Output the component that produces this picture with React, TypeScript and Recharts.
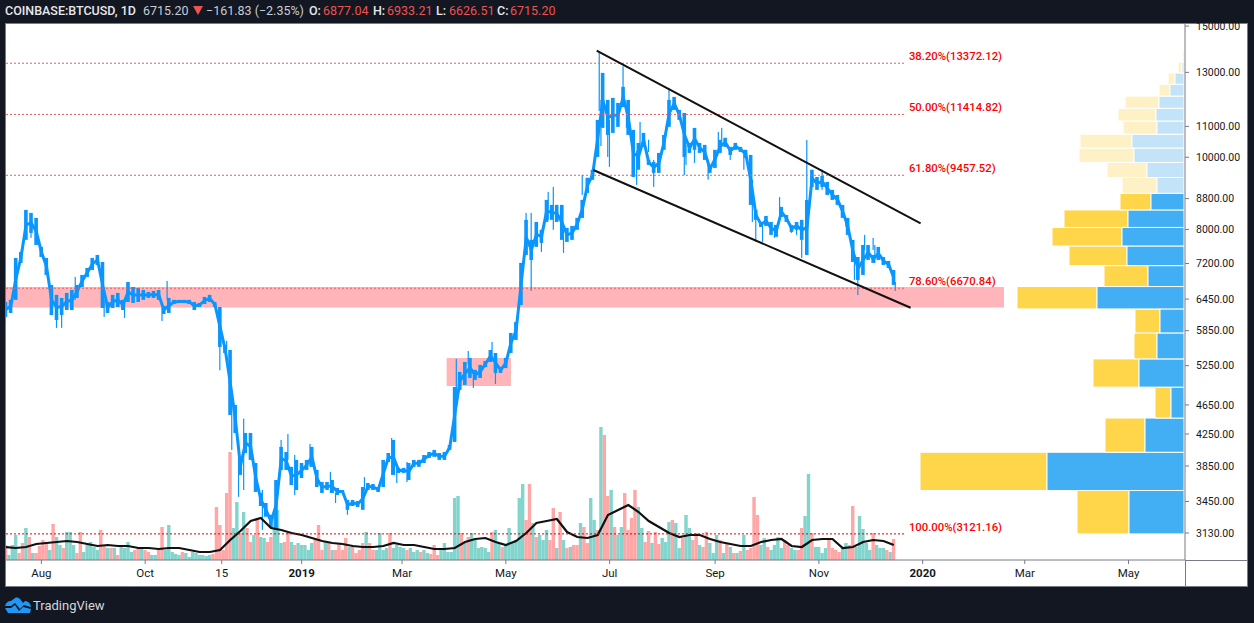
import { Bar, ComposedChart, Line, ReferenceArea, ReferenceDot, ReferenceLine, XAxis, YAxis } from "recharts";

// days are counted from 2019-01-01
const FIRST_DAY = -174;
const X_DOMAIN = [-173.8, 519.2];
const Y_DOMAIN = [2879, 15097];
const VOLUME_MAX = 536;

// every 3rd day: high and low of the price body
const priceHighs = [
  6393, 6435, 7325, 7462, 8498, 8419, 8290, 7580, 7325, 6738, 6534, 6473, 6574, 6635, 6738, 6950, 7102, 7325, 7393, 7235,
  6393, 6534, 6574, 6435, 6800, 6696, 6675, 6635, 6594, 6615, 6635, 6315, 6473, 6435, 6435, 6435, 6435, 6393, 6373, 6493,
  6534, 6393, 6295, 5597, 5511, 4650, 3960, 4264, 4264, 3886, 3542, 3434, 3311, 3687, 4084, 4020, 3840, 3923, 3886, 3923,
  4084, 3803, 3664, 3664, 3687, 3597, 3575, 3466, 3466, 3455, 3608, 3653, 3642, 3608, 3923, 4008, 4172, 3828, 3828, 3886,
  3923, 3923, 3983, 4020, 4046, 4008, 4020, 4108, 4916, 5150, 5310, 5378, 5182, 5262, 5327, 5511, 5460, 5227, 5378, 5809,
  6010, 7213, 8240, 7745, 8187, 7990, 8764, 8630, 8630, 8630, 8037, 8087, 8290, 8764, 9385, 9620, 11224, 12980, 11940, 12015,
  11829, 12430, 11940, 10882, 10453, 10781, 9917, 9856, 10135, 10715, 11940, 12050, 11576, 11469, 10453, 10950, 10453, 10390, 9765, 10232,
  10555, 10620, 10324, 10453, 10324, 10232, 10072, 8498, 8187, 8340, 8187, 8112, 8578, 8366, 8112, 8187, 8240, 8764, 9620, 9408,
  9437, 9265, 9040, 8900, 8630, 8290, 7745, 7347, 7625, 7625, 7393, 7580, 7347, 7258, 7058,
];
const priceLows = [
  6105, 6179, 6435, 7213, 7745, 7914, 7625, 7347, 6950, 6140, 6047, 6140, 6236, 6236, 6473, 6696, 6907, 7058, 7168, 6275,
  6179, 6275, 6295, 6236, 6393, 6373, 6393, 6435, 6473, 6473, 6435, 6160, 6179, 6353, 6373, 6373, 6353, 6236, 6295, 6353,
  6393, 6295, 5563, 5460, 4508, 4264, 3745, 4008, 3923, 3553, 3402, 3291, 3178, 3160, 3803, 3803, 3630, 3575, 3710, 3803,
  3840, 3608, 3542, 3575, 3542, 3520, 3542, 3362, 3402, 3392, 3362, 3575, 3575, 3553, 3608, 3898, 3745, 3768, 3768, 3687,
  3840, 3840, 3886, 3947, 3960, 3923, 3923, 4046, 4147, 4870, 4947, 5055, 5023, 5055, 5227, 5310, 5133, 5133, 5211, 5460,
  5685, 6334, 7393, 7280, 7580, 7673, 8187, 8240, 8187, 7745, 7697, 7745, 7990, 8290, 8956, 9325, 10010, 10950, 10715, 10781,
  10985, 11680, 10715, 9408, 9620, 10324, 9765, 9527, 9527, 10232, 10985, 11576, 11224, 10010, 10135, 10232, 10135, 9917, 9527, 9675,
  10135, 10324, 10072, 10232, 10166, 9980, 8630, 8240, 8062, 8087, 7866, 7819, 8316, 8187, 7938, 7990, 7745, 7393, 9123, 9040,
  9123, 8900, 8764, 8630, 8290, 7866, 7235, 6843, 6950, 7280, 7213, 7280, 7168, 7102, 6738,
];

// single long wicks: day, high, low
const wickDays = [
  -174, -159, -144, -141, -133, -116, -104, -82, -79, -48, -44, -41, -37, -34, -23, -12, -8, -4, 5, 17, 20, 27, 37, 53, 56, 62,
  91, 98, 101, 112, 114, 132, 135, 141, 145, 148, 154, 165, 175, 176, 180, 181, 189, 191, 197, 199, 204, 207, 216, 225, 226,
  231, 239, 245, 247, 252, 260, 265, 267, 271, 278, 281, 288, 291, 294, 297, 306, 320, 325, 327, 331, 336, 337, 349,
];
const wickHighs = [
  6393, 8366, 6534, 6435, 6907, 6435, 6393, 6275, 6822, 5563, 5667, 4766, 4172, 4457, 3575, 4172, 4250, 3983, 4121, 3780, 3542, 3402, 3720, 4198, 3828, 3898,
  5362, 5494, 5133, 5650, 5460, 8419, 8419, 7990, 8984, 9123, 7990, 9468, 13850, 11940, 11224, 11224, 13250, 11720, 10200, 11155, 10555, 9917, 12390, 10232, 10390,
  10850, 9917, 10815, 10950, 10232, 10232, 9330, 8240, 8112, 8112, 8840, 8112, 8112, 7745, 10550, 9620, 8290, 7280, 7058, 7866, 7794, 7625, 6800,
];
const wickLows = [
  6028, 7794, 5900, 5900, 6435, 6105, 6085, 6028, 6435, 5176, 5511, 4046, 3500, 3575, 3160, 3803, 3923, 3520, 3840, 3542, 3434, 3311, 3575, 3745, 3653, 3664,
  4795, 5262, 4900, 5345, 4960, 7745, 6615, 7462, 8240, 7990, 7439, 8900, 11530, 10350, 10010, 9705, 11760, 10950, 9180, 10232, 10166, 9123, 11760, 9466, 9765,
  9826, 9330, 10232, 10390, 9917, 9620, 8187, 7697, 7697, 7794, 8366, 7914, 7866, 7325, 8764, 9040, 8062, 6843, 6530, 7509, 7509, 7213, 6615,
];

// every 2nd day, positive closed up, negative closed down
const volumes = [
  -15, 5, 15, 25, -7, -17, 32, -23, 7, -7, -14, -20, -18, 10, -36, 23, 15, -12, 28, 28,
  15, -7, -28, 8, 15, 18, 13, 10, -30, -15, 12, -12, 12, -5, 14, 12, 18, 8, -10, -13,
  12, -10, -8, 5, 5, -10, -33, 10, 35, 8, 6, 5, -8, 7, 3, 8, 7, 5, 5, 4,
  5, -6, -53, -35, -10, -67, -108, 32, 58, -27, 48, -32, -18, 25, -40, 23, 22, -18, -23, 47,
  50, 17, -18, -27, 18, -15, 17, 15, 15, 10, 17, -20, -35, -10, 18, -17, 10, -10, -17, -10,
  -22, 13, -13, -7, -10, -17, 28, -17, -10, 10, 27, 10, 12, -27, 12, 15, 13, 12, -10, 12,
  8, 10, -8, 10, 7, -6, -15, -5, 12, 17, 8, 8, 62, 64, -27, 18, -23, 27, 20, 12,
  13, 12, 8, -28, 30, 17, -13, 15, 32, 17, 20, 62, 76, -40, -76, 37, -23, 25, 20, 30,
  -20, -52, 12, -48, 20, -12, 13, -15, -15, 37, -33, -17, 62, 40, -30, 133, -125, -64, 70, -33,
  25, 33, -67, -30, -42, -70, 53, 32, -18, -29, 17, -28, -16, 22, 18, 38, -40, 37, 12, -22,
  45, 32, -20, -27, 15, -13, -28, 17, 7, 25, -20, 7, -17, 13, -7, 7, -9, 25, -10, -12,
  -63, -45, 15, 22, -13, 10, 15, 23, 12, -20, -15, 12, 10, -10, -32, 44, 86, -27, 13, 13,
  7, 12, -20, -12, -10, -8, 12, 17, -15, -54, 13, 44, 31, 17, 10, -27, 15, 12, 12, -10,
  8, -21,
];

// every 6th day: volume moving average
const volumeMa = [
  13, 12, 13, 16, 17, 18, 19, 18, 16, 14, 15, 14, 14, 12, 12, 11, 12, 12, 10, 8, 8, 10, 20, 29, 39, 42, 32, 30, 27, 25,
  22, 19, 17, 16, 14, 13, 13, 14, 17, 15, 15, 13, 11, 11, 12, 18, 21, 22, 18, 15, 19, 27, 37, 39, 41, 28, 23, 22, 25, 45,
  50, 55, 48, 39, 33, 27, 23, 25, 25, 21, 18, 16, 14, 14, 18, 20, 21, 14, 13, 20, 21, 21, 12, 13, 18, 20, 19, 15,
];

// visible range volume profile, bottom row first
const profileEdges = [
  3121, 3569, 4017, 4465, 4913, 5361, 5809, 6257, 6705, 7153, 7601, 8049, 8497, 8945, 9393, 9841, 10289, 10737, 11185, 11633, 12081, 12529, 12977, 13425, 13873,
];
const profileTotals = [107, 264, 79, 29, 91, 50, 49, 167, 80, 115, 132, 120, 64, 62, 77, 105, 104, 61, 66, 59, 25, 16, 6, 2];
const profileUps = [55, 137, 39, 13, 45, 27, 24, 87, 36, 57, 62, 56, 33, 27, 37, 50, 52, 27, 28, 25, 14, 9, 2, 1];
const PROFILE_VALUE_AREA_TOP = 8945;

const fibLevels = [13372.12, 11414.82, 9457.52, 6670.84, 3121.16];
const fibLabels = ["38.20%(13372.12)", "50.00%(11414.82)", "61.80%(9457.52)", "78.60%(6670.84)", "100.00%(3121.16)"];
const FIB_END_DAY = 354.6;

const priceTicks = [3130, 3450, 3850, 4250, 4650, 5250, 5850, 6450, 7200, 8000, 8800, 10000, 11000, 13000, 15000];
const timeTicks = [-153, -92, -47, 0, 59, 120, 181, 243, 304, 365, 425, 486];
const timeLabels = ["Aug", "Oct", "15", "2019", "Mar", "May", "Jul", "Sep", "Nov", "2020", "Mar", "May"];

const tableByDay = new Map<number, any>();
const rowFor = (day: number) => {
  if (!tableByDay.has(day)) tableByDay.set(day, { day });
  return tableByDay.get(day);
};
priceHighs.forEach((hi, i) => {
  const r = rowFor(FIRST_DAY + 3 * i);
  r.body = [priceLows[i], hi];
  r.mid = Math.sqrt(priceLows[i] * hi);
});
wickDays.forEach((d, i) => { rowFor(d).wick = [wickLows[i], wickHighs[i]]; });
volumes.forEach((v, i) => {
  const r = rowFor(FIRST_DAY + 2 * i);
  r.volUp = v > 0 ? v : 0;
  r.volDown = v < 0 ? -v : 0;
});
volumeMa.forEach((v, i) => { rowFor(FIRST_DAY + 6 * i).ma = v; });
const chartData = [...tableByDay.values()].sort((a, b) => a.day - b.day);

const FONT = "Roboto, sans-serif";
const BLUE = "#0a96ff";
const ZONE = "rgba(255,50,62,0.36)";

// the table mixes 1, 2 and 3 day rows, so the axis band is too narrow for a plain barSize
const barShape = (w: number, fill: string) => (p: any) => {
  if (!Number.isFinite(p.height) || !Number.isFinite(p.y) || p.height === 0) return <g />;
  return <rect x={p.x + p.width / 2 - w / 2} y={Math.min(p.y, p.y + p.height)} width={w} height={Math.abs(p.height)} fill={fill} />;
};

function TimeTick({ x, y, payload }: any) {
  const label = timeLabels[timeTicks.indexOf(payload.value)];
  const isYear = label === "2019" || label === "2020";
  return (
    <text x={x} y={y + 11} textAnchor="middle" fontFamily={FONT} fontSize={11.5} fontWeight={isYear ? 700 : 400} fill="#131722">
      {label}
    </text>
  );
}

function HeaderText({ left, color, weight, children }: any) {
  return (
    <span style={{ position: "absolute", left, top: 2, fontFamily: FONT, fontSize: 12.5, lineHeight: "18px", color, fontWeight: weight ?? 400, whiteSpace: "nowrap" }}>
      {children}
    </span>
  );
}

export default function App() {
  return (
    <div style={{ position: "absolute", left: 0, top: 0, width: 1254, height: 623, background: "#131722", overflow: "hidden" }}>
      <HeaderText left={5} color="#e8e8ea" weight={500}>COINBASE:BTCUSD, 1D</HeaderText>
      <HeaderText left={143} color="#c9ccd4">6715.20</HeaderText>
      <div style={{ position: "absolute", left: 193, top: 6, width: 0, height: 0, borderLeft: "5px solid transparent", borderRight: "5px solid transparent", borderTop: "9px solid #ef5350" }} />
      <HeaderText left={206} color="#c9ccd4">−161.83 (−2.35%)</HeaderText>
      <HeaderText left={309} color="#e8e8ea" weight={500}>O:</HeaderText>
      <HeaderText left={323} color="#ef5350">6877.04</HeaderText>
      <HeaderText left={373} color="#e8e8ea" weight={500}>H:</HeaderText>
      <HeaderText left={387} color="#ef5350">6933.21</HeaderText>
      <HeaderText left={436} color="#e8e8ea" weight={500}>L:</HeaderText>
      <HeaderText left={449} color="#ef5350">6626.51</HeaderText>
      <HeaderText left={497} color="#e8e8ea" weight={500}>C:</HeaderText>
      <HeaderText left={510} color="#ef5350">6715.20</HeaderText>

      <div style={{ position: "absolute", left: 5, top: 23, width: 1243, height: 564, background: "#fff", boxSizing: "border-box", border: "1px solid #787b86" }} />
      <div style={{ position: "absolute", left: 1185, top: 560, width: 1, height: 27, background: "#787b86" }} />
      <div style={{ position: "absolute", left: 1185, top: 560, width: 63, height: 1, background: "#787b86" }} />

      <div style={{ position: "absolute", left: 0, top: 0 }}>
        <ComposedChart width={1254} height={623} data={chartData} margin={{ top: 24, right: 0, bottom: 0, left: 6 }}>
          <XAxis
            xAxisId="time"
            dataKey="day"
            type="number"
            domain={X_DOMAIN}
            allowDataOverflow
            ticks={timeTicks}
            interval={0}
            height={63}
            stroke="#787b86"
            tickSize={4}
            tick={<TimeTick />}
          />
          <XAxis xAxisId="wick" orientation="top" height={0} dataKey="day" type="number" domain={X_DOMAIN} allowDataOverflow hide />
          <XAxis xAxisId="vol" orientation="top" height={0} dataKey="day" type="number" domain={X_DOMAIN} allowDataOverflow hide />
          <XAxis xAxisId="profile" orientation="top" height={0} dataKey="day" type="number" domain={[-1, 1178]} allowDataOverflow reversed hide />
          <YAxis
            yAxisId="price"
            orientation="right"
            scale="log"
            type="number"
            domain={Y_DOMAIN}
            allowDataOverflow
            ticks={priceTicks}
            interval={0}
            width={69}
            stroke="#787b86"
            tickSize={4}
            tickMargin={7}
            tick={{ fontFamily: FONT, fontSize: 10.5, fill: "#131722" }}
            tickFormatter={(v: number) => v.toFixed(2)}
          />
          <YAxis yAxisId="volume" type="number" domain={[0, VOLUME_MAX]} allowDataOverflow hide />

          <Bar xAxisId="vol" yAxisId="volume" dataKey="volUp" stackId="v" shape={barShape(3.4, "#82d5cd")} fill="#82d5cd" isAnimationActive={false} />
          <Bar xAxisId="vol" yAxisId="volume" dataKey="volDown" stackId="v" shape={barShape(3.4, "#ffa6a6")} fill="#ffa6a6" isAnimationActive={false} />
          <Line xAxisId="time" yAxisId="volume" dataKey="ma" stroke="#111" strokeWidth={2.2} dot={false} connectNulls isAnimationActive={false} />
          <Bar xAxisId="wick" yAxisId="price" dataKey="wick" shape={barShape(1.2, BLUE)} fill={BLUE} isAnimationActive={false} />
          <Bar xAxisId="time" yAxisId="price" dataKey="body" shape={barShape(3.6, BLUE)} fill={BLUE} isAnimationActive={false} />
          <Line xAxisId="time" yAxisId="price" dataKey="mid" stroke={BLUE} strokeWidth={3} dot={false} connectNulls isAnimationActive={false} />

          {profileTotals.map((total, i) => {
            const faded = profileEdges[i] >= PROFILE_VALUE_AREA_TOP;
            return [
              <ReferenceArea key={`t${i}`} xAxisId="profile" yAxisId="price" x1={profileUps[i]} x2={total} y1={profileEdges[i]} y2={profileEdges[i + 1]} fill={faded ? "#fff1c6" : "#ffd54a"} fillOpacity={1} stroke="#fff" />,
              <ReferenceArea key={`u${i}`} xAxisId="profile" yAxisId="price" x1={0} x2={profileUps[i]} y1={profileEdges[i]} y2={profileEdges[i + 1]} fill={faded ? "#c3e3f9" : "#42aef4"} fillOpacity={1} stroke="#fff" />,
            ];
          })}

          {fibLevels.map((level) => (
            <ReferenceLine
              key={level}
              xAxisId="time"
              yAxisId="price"
              segment={[{ x: X_DOMAIN[0], y: level }, { x: FIB_END_DAY, y: level }]}
              stroke={level < 4000 ? "#e00000" : "#f05a5a"}
              strokeDasharray="2 2"
            />
          ))}
          {fibLevels.map((level, i) => (
            <ReferenceDot
              key={fibLabels[i]}
              xAxisId="time"
              yAxisId="price"
              x={FIB_END_DAY}
              y={level}
              r={0}
              shape={(p: any) => (
                <text x={p.cx + 4} y={p.cy - 3} fontFamily={FONT} fontSize={11.3} fontWeight={500} fill="#ff0000">{fibLabels[i]}</text>
              )}
            />
          ))}

          <ReferenceArea xAxisId="time" yAxisId="price" x1={X_DOMAIN[0]} x2={412.8} y1={6285} y2={6695} fill={ZONE} fillOpacity={1} />
          <ReferenceArea xAxisId="time" yAxisId="price" x1={85.2} x2={123} y1={4930} y2={5375} fill={ZONE} fillOpacity={1} />

          <ReferenceLine xAxisId="time" yAxisId="price" segment={[{ x: 173.4, y: 13901 }, { x: 363.8, y: 8153 }]} stroke="#111" strokeWidth={2} />
          <ReferenceLine xAxisId="time" yAxisId="price" segment={[{ x: 171.4, y: 9613 }, { x: 357.9, y: 6280 }]} stroke="#111" strokeWidth={2} />
        </ComposedChart>
      </div>

      <svg style={{ position: "absolute", left: 5, top: 597 }} width={27} height={16} viewBox="0 0 27 16">
        <path d="M0 9 C1 5 4 4 6 4 L10 1 C12 0 14 1 15 2 L18 6 L20 4 C23 4 26 7 26 10 L22 9 L19 8 L15 12 L10 6 L6 9 Z M0 11 L6 11 L10 8 L14 14 L18 10 L26 12 L25 16 L3 16 Z" fill="#2196f3" />
      </svg>
      <span style={{ position: "absolute", left: 33, top: 597, fontFamily: FONT, fontSize: 13, lineHeight: "17px", color: "#d6d8de" }}>TradingView</span>
    </div>
  );
}
